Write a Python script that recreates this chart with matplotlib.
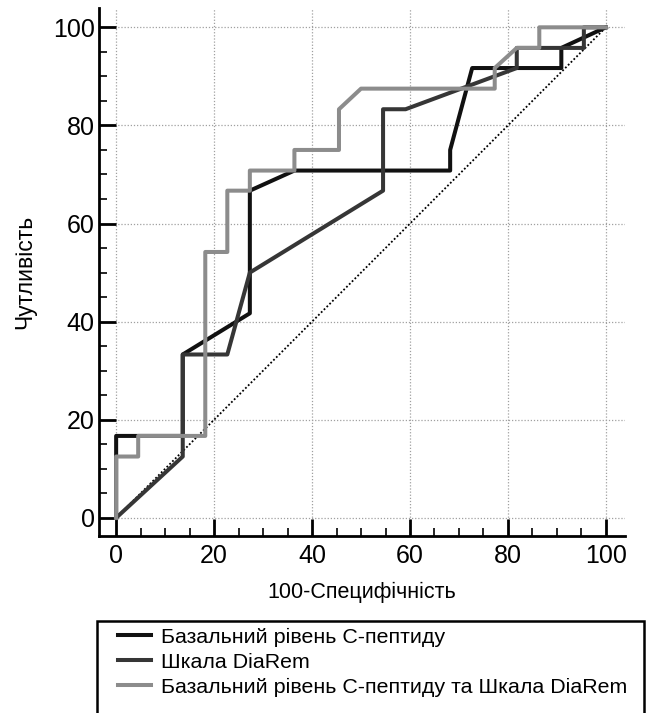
import matplotlib.pyplot as plt
from matplotlib.patches import Rectangle
from matplotlib.ticker import MultipleLocator

plt.rcParams['font.family'] = ['Liberation Sans', 'DejaVu Sans']

# ROC curves: 100-specificity (x) vs sensitivity (y)
cpep_x = [0, 0, 13.6, 13.6, 27.3, 27.3, 36.4, 68.2, 68.2, 72.7, 90.9, 90.9, 100]
cpep_y = [0, 16.7, 16.7, 33.3, 41.7, 66.7, 70.8, 70.8, 75.0, 91.7, 91.7, 95.8, 100]

diarem_x = [0, 13.6, 13.6, 22.7, 27.3, 54.5, 54.5, 59.1, 81.8, 81.8, 95.5, 95.5, 100]
diarem_y = [0, 12.5, 33.3, 33.3, 50.0, 66.7, 83.3, 83.3, 91.7, 95.8, 95.8, 100, 100]

both_x = [0, 0, 4.5, 4.5, 18.2, 18.2, 22.7, 22.7, 27.3, 27.3, 36.4, 36.4,
          45.5, 45.5, 50.0, 77.3, 77.3, 81.8, 86.4, 86.4, 100]
both_y = [0, 12.5, 12.5, 16.7, 16.7, 54.2, 54.2, 66.7, 66.7, 70.8, 70.8, 75.0,
          75.0, 83.3, 87.5, 87.5, 91.7, 95.8, 95.8, 100, 100]

ref_line = [0, 100]

labels = ['Базальний рівень С-пептиду',
          'Шкала DiaRem',
          'Базальний рівень С-пептиду та Шкала DiaRem']
colors = ['#111111', '#363636', '#8c8c8c']

W, H = 649, 713
fig = plt.figure(figsize=(W / 100, H / 100), dpi=100)
ax = fig.add_axes([99 / W, (H - 535.5) / H, (625 - 99) / W, (535.5 - 7.7) / H])

ax.plot(ref_line, ref_line, color='black', lw=1.3, ls=(0, (1, 1.2)), zorder=2)
l1, = ax.plot(cpep_x, cpep_y, color=colors[0], lw=2.9, zorder=3)
l2, = ax.plot(diarem_x, diarem_y, color=colors[1], lw=2.9, zorder=4)
l3, = ax.plot(both_x, both_y, color=colors[2], lw=2.9, zorder=5)

ax.set_xlim(-3.5, 103.9)
ax.set_ylim(-3.6, 104)
ax.xaxis.set_major_locator(MultipleLocator(20))
ax.yaxis.set_major_locator(MultipleLocator(20))
ax.xaxis.set_minor_locator(MultipleLocator(5))
ax.yaxis.set_minor_locator(MultipleLocator(5))

for s in ['top', 'right']:
    ax.spines[s].set_visible(False)
for s in ['left', 'bottom']:
    ax.spines[s].set_linewidth(2.0)

ax.tick_params(which='major', direction='in', length=12.5, width=2.0, labelsize=18)
ax.tick_params(which='minor', direction='in', length=6, width=1.2)
ax.tick_params(axis='x', which='major', pad=6)
ax.tick_params(axis='y', which='major', pad=3)

ax.grid(which='major', color='#a0a0a0', lw=0.9, ls=(0, (1, 1.5)), zorder=1)

ax.set_xlabel('100-Специфічність', fontsize=15.5, labelpad=10)
ax.set_ylabel('Чутливість', fontsize=16.5, labelpad=12)

# legend box runs off the bottom of the picture
fig.patches.append(Rectangle((97 / W, -0.05), (644 - 97) / W, 0.05 + (H - 621) / H,
                             transform=fig.transFigure, fill=False,
                             edgecolor='black', lw=1.8))
fig.legend([l1, l2, l3], labels, loc='upper left',
           bbox_to_anchor=(109 / W, (H - 619) / H), frameon=False,
           fontsize=15.4, handlelength=1.55, handletextpad=0.5, labelspacing=0.28,
           borderaxespad=0)

fig.savefig('out.png', dpi=100)
